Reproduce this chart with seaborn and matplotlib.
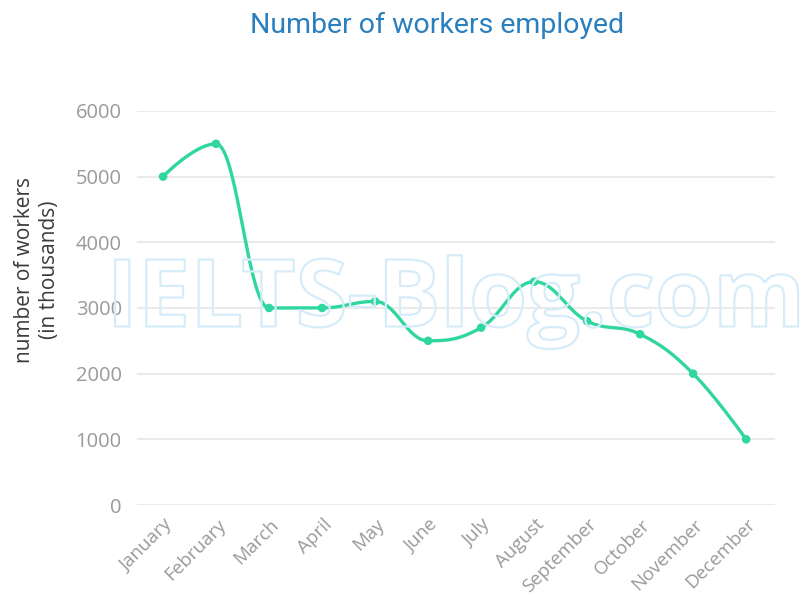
import numpy as np
import pandas as pd
import matplotlib
matplotlib.use("Agg")
import matplotlib.pyplot as plt
import matplotlib.patheffects as pe
from matplotlib.transforms import ScaledTranslation
import seaborn as sns

months = ["January", "February", "March", "April", "May", "June", "July",
          "August", "September", "October", "November", "December"]
workers = [5000, 5500, 3000, 3000, 3100, 2500, 2700, 3400, 2800, 2600, 2000, 1000]
y_ticks = [0, 1000, 2000, 3000, 4000, 5000, 6000]

title_text = "Number of workers employed"
ylabel_text = "number of workers\n(in thousands)"
watermark_text = "IELTS-Blog.com"

LINE = "#30d6a0"

sns.set_theme(style="white")
plt.rcParams["font.family"] = ["Open Sans", "DejaVu Sans"]

fig = plt.figure(figsize=(8.11, 5.98), dpi=100)
ax = fig.add_axes([0.169, 0.1555, 0.787, 0.659])
ax.set_xlim(-0.49, 11.55)
ax.set_ylim(0, 6000)

df = pd.DataFrame({"pos": np.arange(len(months)), "workers": workers, "month": months})


# Smooth spline (Highcharts-style, smoothing 1.5) computed in display space
def spline_curve(ax, xs, ys, smoothing=1.5, n=40):
    pts = ax.transData.transform(np.column_stack([xs, ys]))
    m = len(pts)
    left = pts.copy()
    right = pts.copy()
    denom = smoothing + 1
    for i in range(1, m - 1):
        lx, ly = pts[i - 1]
        px, py = pts[i]
        nx, ny = pts[i + 1]
        lcx = (smoothing * px + lx) / denom
        lcy = (smoothing * py + ly) / denom
        rcx = (smoothing * px + nx) / denom
        rcy = (smoothing * py + ny) / denom
        corr = 0.0
        if rcx != lcx:
            corr = (rcy - lcy) * (rcx - px) / (rcx - lcx) + py - rcy
        lcy += corr
        rcy += corr
        if lcy > ly and lcy > py:
            lcy = max(ly, py)
            rcy = 2 * py - lcy
        elif lcy < ly and lcy < py:
            lcy = min(ly, py)
            rcy = 2 * py - lcy
        if rcy > ny and rcy > py:
            rcy = max(ny, py)
            lcy = 2 * py - rcy
        elif rcy < ny and rcy < py:
            rcy = min(ny, py)
            lcy = 2 * py - rcy
        left[i] = (lcx, lcy)
        right[i] = (rcx, rcy)
    out = []
    t = np.linspace(0, 1, n)[:, None]
    for i in range(m - 1):
        a, b, c, d = pts[i], right[i], left[i + 1], pts[i + 1]
        seg = (1 - t) ** 3 * a + 3 * (1 - t) ** 2 * t * b + 3 * (1 - t) * t ** 2 * c + t ** 3 * d
        out.append(seg if i == 0 else seg[1:])
    out = np.vstack(out)
    data = ax.transData.inverted().transform(out)
    return data[:, 0], data[:, 1]


cx, cy = spline_curve(ax, df["pos"].values.astype(float), df["workers"].values.astype(float))
curve = pd.DataFrame({"x": cx, "y": cy})
sns.lineplot(data=curve, x="x", y="y", sort=False, estimator=None, ax=ax,
             color=LINE, linewidth=2.4, zorder=3)
sns.scatterplot(data=df, x="pos", y="workers", ax=ax, color=LINE, s=38,
                edgecolor="none", zorder=4, clip_on=False)

# axes styling
for s in ax.spines.values():
    s.set_visible(False)
ax.set_yticks(y_ticks)
ax.set_yticklabels([str(v) for v in y_ticks])
ax.yaxis.grid(True, color="#e4e4e4", linewidth=1.1)
ax.set_axisbelow(True)
ax.set_xticks(df["pos"])
ax.set_xticklabels(months, rotation=45, ha="right", va="center",
                   rotation_mode="anchor")
ax.tick_params(axis="y", length=0, pad=11, labelsize=14.5, labelcolor="#9a9a9a")
ax.tick_params(axis="x", length=0, pad=12, labelsize=13.5, labelcolor="#9a9a9a")
shift = ScaledTranslation(7 / 100, 0, fig.dpi_scale_trans)
for lab in ax.get_xticklabels():
    lab.set_transform(lab.get_transform() + shift)
ax.set_xlabel("")
ax.set_ylabel("")

fig.text(37 / 811, 1 - 270 / 598, ylabel_text, rotation=90, ha="center",
         va="center", multialignment="center", fontsize=15, color="#3a3a3a",
         linespacing=1.3)

fig.text(437 / 811, 1 - 25 / 598, title_text, ha="center", va="center",
         fontsize=20.5, color="#2a7fbf", family=["Roboto", "DejaVu Sans"])

# watermark
fig.text(456 / 811, 1 - 302 / 598, watermark_text, ha="center", va="center",
         fontsize=67.5, fontweight="bold", color=(1, 1, 1, 0), zorder=1,
         path_effects=[pe.Stroke(linewidth=1.6, foreground="#d6ecf9")])

fig.savefig("out.png", dpi=100)
